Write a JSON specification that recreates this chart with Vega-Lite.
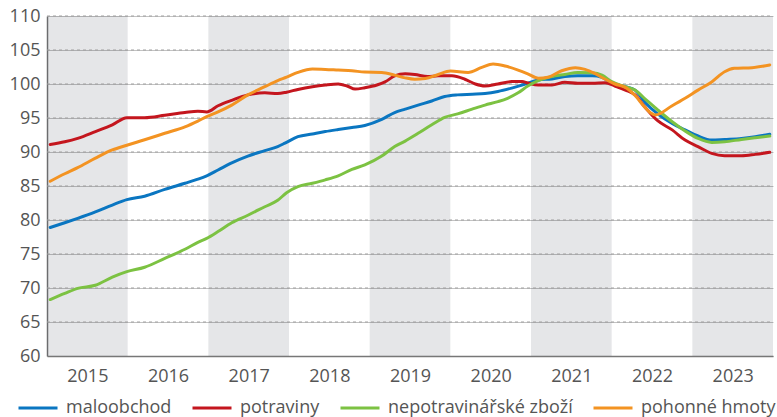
{
  "$schema": "https://vega.github.io/schema/vega-lite/v6.json",
  "width": 726,
  "height": 340,
  "autosize": {"type": "none"},
  "padding": {"left": 47, "top": 16, "right": 4, "bottom": 61},
  "background": "white",
  "config": {
    "view": {"stroke": null},
    "font": "Open Sans",
    "axis": {"labelFont": "Open Sans", "labelFontSize": 18, "labelColor": "#555555", "domainColor": "#777777", "domainWidth": 1.5, "ticks": false, "title": null, "labelOverlap": false},
    "axisX": {"grid": false},
    "axisY": {"grid": true, "gridColor": "#c2c2c2", "gridWidth": 1, "gridOpacity": 1},
    "legend": {"labelFont": "Open Sans", "labelFontSize": 18, "labelColor": "#555555", "labelLimit": 400}
  },
  "datasets": {
    "bands": [
      {"a": 2015, "b": 2016},
      {"a": 2017, "b": 2018},
      {"a": 2019, "b": 2020},
      {"a": 2021, "b": 2022},
      {"a": 2023, "b": 2024}
    ],
    "gridvals": [{"g": 65}, {"g": 70}, {"g": 75}, {"g": 80}, {"g": 85}, {"g": 90}, {"g": 95}, {"g": 100}, {"g": 105}, {"g": 110}],
    "lines": [
      {"s": "maloobchod", "t": 2015.04, "v": 78.9},
      {"s": "maloobchod", "t": 2015.22, "v": 79.6},
      {"s": "maloobchod", "t": 2015.38, "v": 80.25},
      {"s": "maloobchod", "t": 2015.60, "v": 81.2},
      {"s": "maloobchod", "t": 2015.81, "v": 82.2},
      {"s": "maloobchod", "t": 2015.99, "v": 83.0},
      {"s": "maloobchod", "t": 2016.21, "v": 83.5},
      {"s": "maloobchod", "t": 2016.46, "v": 84.5},
      {"s": "maloobchod", "t": 2016.71, "v": 85.4},
      {"s": "maloobchod", "t": 2016.87, "v": 86.0},
      {"s": "maloobchod", "t": 2016.98, "v": 86.5},
      {"s": "maloobchod", "t": 2017.12, "v": 87.35},
      {"s": "maloobchod", "t": 2017.29, "v": 88.4},
      {"s": "maloobchod", "t": 2017.49, "v": 89.4},
      {"s": "maloobchod", "t": 2017.70, "v": 90.2},
      {"s": "maloobchod", "t": 2017.86, "v": 90.8},
      {"s": "maloobchod", "t": 2017.95, "v": 91.3},
      {"s": "maloobchod", "t": 2018.11, "v": 92.25},
      {"s": "maloobchod", "t": 2018.29, "v": 92.65},
      {"s": "maloobchod", "t": 2018.45, "v": 93.0},
      {"s": "maloobchod", "t": 2018.61, "v": 93.3},
      {"s": "maloobchod", "t": 2018.78, "v": 93.6},
      {"s": "maloobchod", "t": 2018.94, "v": 93.9},
      {"s": "maloobchod", "t": 2019.15, "v": 94.8},
      {"s": "maloobchod", "t": 2019.31, "v": 95.8},
      {"s": "maloobchod", "t": 2019.44, "v": 96.3},
      {"s": "maloobchod", "t": 2019.60, "v": 96.9},
      {"s": "maloobchod", "t": 2019.77, "v": 97.5},
      {"s": "maloobchod", "t": 2019.93, "v": 98.15},
      {"s": "maloobchod", "t": 2020.09, "v": 98.4},
      {"s": "maloobchod", "t": 2020.27, "v": 98.5},
      {"s": "maloobchod", "t": 2020.43, "v": 98.6},
      {"s": "maloobchod", "t": 2020.59, "v": 98.9},
      {"s": "maloobchod", "t": 2020.76, "v": 99.4},
      {"s": "maloobchod", "t": 2020.89, "v": 99.85},
      {"s": "maloobchod", "t": 2020.96, "v": 100.1},
      {"s": "maloobchod", "t": 2021.09, "v": 100.6},
      {"s": "maloobchod", "t": 2021.26, "v": 100.75},
      {"s": "maloobchod", "t": 2021.42, "v": 101.1},
      {"s": "maloobchod", "t": 2021.58, "v": 101.2},
      {"s": "maloobchod", "t": 2021.76, "v": 101.2},
      {"s": "maloobchod", "t": 2021.88, "v": 101.0},
      {"s": "maloobchod", "t": 2022.00, "v": 100.1},
      {"s": "maloobchod", "t": 2022.17, "v": 99.6},
      {"s": "maloobchod", "t": 2022.29, "v": 99.1},
      {"s": "maloobchod", "t": 2022.42, "v": 97.2},
      {"s": "maloobchod", "t": 2022.57, "v": 95.6},
      {"s": "maloobchod", "t": 2022.75, "v": 94.2},
      {"s": "maloobchod", "t": 2022.91, "v": 93.25},
      {"s": "maloobchod", "t": 2023.07, "v": 92.35},
      {"s": "maloobchod", "t": 2023.24, "v": 91.75},
      {"s": "maloobchod", "t": 2023.40, "v": 91.85},
      {"s": "maloobchod", "t": 2023.61, "v": 92.0},
      {"s": "maloobchod", "t": 2023.78, "v": 92.25},
      {"s": "maloobchod", "t": 2023.96, "v": 92.6},

      {"s": "potraviny", "t": 2015.04, "v": 91.1},
      {"s": "potraviny", "t": 2015.22, "v": 91.5},
      {"s": "potraviny", "t": 2015.38, "v": 92.0},
      {"s": "potraviny", "t": 2015.60, "v": 93.0},
      {"s": "potraviny", "t": 2015.81, "v": 94.0},
      {"s": "potraviny", "t": 2015.99, "v": 95.05},
      {"s": "potraviny", "t": 2016.21, "v": 95.05},
      {"s": "potraviny", "t": 2016.46, "v": 95.4},
      {"s": "potraviny", "t": 2016.71, "v": 95.8},
      {"s": "potraviny", "t": 2016.87, "v": 96.0},
      {"s": "potraviny", "t": 2016.98, "v": 95.9},
      {"s": "potraviny", "t": 2017.12, "v": 96.8},
      {"s": "potraviny", "t": 2017.29, "v": 97.6},
      {"s": "potraviny", "t": 2017.49, "v": 98.4},
      {"s": "potraviny", "t": 2017.70, "v": 98.7},
      {"s": "potraviny", "t": 2017.86, "v": 98.6},
      {"s": "potraviny", "t": 2017.97, "v": 98.8},
      {"s": "potraviny", "t": 2018.11, "v": 99.2},
      {"s": "potraviny", "t": 2018.29, "v": 99.6},
      {"s": "potraviny", "t": 2018.45, "v": 99.85},
      {"s": "potraviny", "t": 2018.61, "v": 100.0},
      {"s": "potraviny", "t": 2018.72, "v": 99.7},
      {"s": "potraviny", "t": 2018.82, "v": 99.25},
      {"s": "potraviny", "t": 2018.94, "v": 99.45},
      {"s": "potraviny", "t": 2019.09, "v": 99.85},
      {"s": "potraviny", "t": 2019.19, "v": 100.3},
      {"s": "potraviny", "t": 2019.31, "v": 101.2},
      {"s": "potraviny", "t": 2019.44, "v": 101.5},
      {"s": "potraviny", "t": 2019.56, "v": 101.4},
      {"s": "potraviny", "t": 2019.72, "v": 101.1},
      {"s": "potraviny", "t": 2019.85, "v": 101.2},
      {"s": "potraviny", "t": 2020.02, "v": 101.2},
      {"s": "potraviny", "t": 2020.18, "v": 100.7},
      {"s": "potraviny", "t": 2020.31, "v": 100.0},
      {"s": "potraviny", "t": 2020.43, "v": 99.7},
      {"s": "potraviny", "t": 2020.59, "v": 100.0},
      {"s": "potraviny", "t": 2020.76, "v": 100.35},
      {"s": "potraviny", "t": 2020.89, "v": 100.35},
      {"s": "potraviny", "t": 2020.96, "v": 100.15},
      {"s": "potraviny", "t": 2021.09, "v": 99.85},
      {"s": "potraviny", "t": 2021.26, "v": 99.85},
      {"s": "potraviny", "t": 2021.42, "v": 100.25},
      {"s": "potraviny", "t": 2021.58, "v": 100.1},
      {"s": "potraviny", "t": 2021.76, "v": 100.1},
      {"s": "potraviny", "t": 2021.92, "v": 100.2},
      {"s": "potraviny", "t": 2022.04, "v": 99.7},
      {"s": "potraviny", "t": 2022.17, "v": 99.1},
      {"s": "potraviny", "t": 2022.29, "v": 98.4},
      {"s": "potraviny", "t": 2022.42, "v": 96.5},
      {"s": "potraviny", "t": 2022.57, "v": 94.6},
      {"s": "potraviny", "t": 2022.75, "v": 93.25},
      {"s": "potraviny", "t": 2022.91, "v": 91.75},
      {"s": "potraviny", "t": 2023.07, "v": 90.8},
      {"s": "potraviny", "t": 2023.24, "v": 89.8},
      {"s": "potraviny", "t": 2023.40, "v": 89.45},
      {"s": "potraviny", "t": 2023.61, "v": 89.45},
      {"s": "potraviny", "t": 2023.78, "v": 89.65},
      {"s": "potraviny", "t": 2023.96, "v": 89.95},

      {"s": "nepotravinářské zboží", "t": 2015.04, "v": 68.3},
      {"s": "nepotravinářské zboží", "t": 2015.22, "v": 69.2},
      {"s": "nepotravinářské zboží", "t": 2015.38, "v": 69.95},
      {"s": "nepotravinářské zboží", "t": 2015.60, "v": 70.4},
      {"s": "nepotravinářské zboží", "t": 2015.81, "v": 71.6},
      {"s": "nepotravinářské zboží", "t": 2015.99, "v": 72.4},
      {"s": "nepotravinářské zboží", "t": 2016.21, "v": 73.05},
      {"s": "nepotravinářské zboží", "t": 2016.46, "v": 74.35},
      {"s": "nepotravinářské zboží", "t": 2016.71, "v": 75.7},
      {"s": "nepotravinářské zboží", "t": 2016.87, "v": 76.7},
      {"s": "nepotravinářské zboží", "t": 2016.98, "v": 77.3},
      {"s": "nepotravinářské zboží", "t": 2017.12, "v": 78.3},
      {"s": "nepotravinářské zboží", "t": 2017.29, "v": 79.6},
      {"s": "nepotravinářské zboží", "t": 2017.49, "v": 80.7},
      {"s": "nepotravinářské zboží", "t": 2017.70, "v": 81.95},
      {"s": "nepotravinářské zboží", "t": 2017.86, "v": 82.9},
      {"s": "nepotravinářské zboží", "t": 2017.97, "v": 84.0},
      {"s": "nepotravinářské zboží", "t": 2018.11, "v": 84.9},
      {"s": "nepotravinářské zboží", "t": 2018.29, "v": 85.4},
      {"s": "nepotravinářské zboží", "t": 2018.45, "v": 85.9},
      {"s": "nepotravinářské zboží", "t": 2018.61, "v": 86.5},
      {"s": "nepotravinářské zboží", "t": 2018.78, "v": 87.45},
      {"s": "nepotravinářské zboží", "t": 2018.94, "v": 88.1},
      {"s": "nepotravinářské zboží", "t": 2019.15, "v": 89.4},
      {"s": "nepotravinářské zboží", "t": 2019.31, "v": 90.8},
      {"s": "nepotravinářské zboží", "t": 2019.44, "v": 91.6},
      {"s": "nepotravinářské zboží", "t": 2019.60, "v": 92.75},
      {"s": "nepotravinářské zboží", "t": 2019.77, "v": 94.0},
      {"s": "nepotravinářské zboží", "t": 2019.93, "v": 95.1},
      {"s": "nepotravinářské zboží", "t": 2020.09, "v": 95.6},
      {"s": "nepotravinářské zboží", "t": 2020.27, "v": 96.3},
      {"s": "nepotravinářské zboží", "t": 2020.43, "v": 96.9},
      {"s": "nepotravinářské zboží", "t": 2020.59, "v": 97.4},
      {"s": "nepotravinářské zboží", "t": 2020.71, "v": 97.9},
      {"s": "nepotravinářské zboží", "t": 2020.84, "v": 98.7},
      {"s": "nepotravinářské zboží", "t": 2020.96, "v": 99.7},
      {"s": "nepotravinářské zboží", "t": 2021.09, "v": 100.5},
      {"s": "nepotravinářské zboží", "t": 2021.26, "v": 101.1},
      {"s": "nepotravinářské zboží", "t": 2021.42, "v": 101.4},
      {"s": "nepotravinářské zboží", "t": 2021.58, "v": 101.7},
      {"s": "nepotravinářské zboží", "t": 2021.76, "v": 101.65},
      {"s": "nepotravinářské zboží", "t": 2021.88, "v": 101.3},
      {"s": "nepotravinářské zboží", "t": 2022.00, "v": 100.35},
      {"s": "nepotravinářské zboží", "t": 2022.17, "v": 99.6},
      {"s": "nepotravinářské zboží", "t": 2022.29, "v": 99.1},
      {"s": "nepotravinářské zboží", "t": 2022.42, "v": 97.75},
      {"s": "nepotravinářské zboží", "t": 2022.57, "v": 96.2},
      {"s": "nepotravinářské zboží", "t": 2022.75, "v": 94.45},
      {"s": "nepotravinářské zboží", "t": 2022.91, "v": 93.1},
      {"s": "nepotravinářské zboží", "t": 2023.07, "v": 92.0},
      {"s": "nepotravinářské zboží", "t": 2023.24, "v": 91.4},
      {"s": "nepotravinářské zboží", "t": 2023.40, "v": 91.5},
      {"s": "nepotravinářské zboží", "t": 2023.61, "v": 91.85},
      {"s": "nepotravinářské zboží", "t": 2023.78, "v": 92.1},
      {"s": "nepotravinářské zboží", "t": 2023.96, "v": 92.35},

      {"s": "pohonné hmoty", "t": 2015.04, "v": 85.7},
      {"s": "pohonné hmoty", "t": 2015.22, "v": 86.8},
      {"s": "pohonné hmoty", "t": 2015.38, "v": 87.7},
      {"s": "pohonné hmoty", "t": 2015.60, "v": 89.1},
      {"s": "pohonné hmoty", "t": 2015.81, "v": 90.3},
      {"s": "pohonné hmoty", "t": 2015.99, "v": 91.0},
      {"s": "pohonné hmoty", "t": 2016.21, "v": 91.8},
      {"s": "pohonné hmoty", "t": 2016.46, "v": 92.75},
      {"s": "pohonné hmoty", "t": 2016.71, "v": 93.7},
      {"s": "pohonné hmoty", "t": 2016.87, "v": 94.55},
      {"s": "pohonné hmoty", "t": 2016.98, "v": 95.2},
      {"s": "pohonné hmoty", "t": 2017.12, "v": 95.9},
      {"s": "pohonné hmoty", "t": 2017.29, "v": 96.9},
      {"s": "pohonné hmoty", "t": 2017.49, "v": 98.4},
      {"s": "pohonné hmoty", "t": 2017.70, "v": 99.6},
      {"s": "pohonné hmoty", "t": 2017.86, "v": 100.5},
      {"s": "pohonné hmoty", "t": 2017.97, "v": 101.0},
      {"s": "pohonné hmoty", "t": 2018.11, "v": 101.7},
      {"s": "pohonné hmoty", "t": 2018.29, "v": 102.2},
      {"s": "pohonné hmoty", "t": 2018.45, "v": 102.15},
      {"s": "pohonné hmoty", "t": 2018.61, "v": 102.05},
      {"s": "pohonné hmoty", "t": 2018.78, "v": 101.95},
      {"s": "pohonné hmoty", "t": 2018.94, "v": 101.75},
      {"s": "pohonné hmoty", "t": 2019.15, "v": 101.7},
      {"s": "pohonné hmoty", "t": 2019.31, "v": 101.3},
      {"s": "pohonné hmoty", "t": 2019.44, "v": 100.9},
      {"s": "pohonné hmoty", "t": 2019.56, "v": 100.7},
      {"s": "pohonné hmoty", "t": 2019.69, "v": 100.8},
      {"s": "pohonné hmoty", "t": 2019.85, "v": 101.4},
      {"s": "pohonné hmoty", "t": 2020.00, "v": 101.9},
      {"s": "pohonné hmoty", "t": 2020.22, "v": 101.7},
      {"s": "pohonné hmoty", "t": 2020.39, "v": 102.45},
      {"s": "pohonné hmoty", "t": 2020.53, "v": 102.95},
      {"s": "pohonné hmoty", "t": 2020.68, "v": 102.65},
      {"s": "pohonné hmoty", "t": 2020.84, "v": 102.05},
      {"s": "pohonné hmoty", "t": 2020.96, "v": 101.5},
      {"s": "pohonné hmoty", "t": 2021.09, "v": 100.85},
      {"s": "pohonné hmoty", "t": 2021.21, "v": 101.0},
      {"s": "pohonné hmoty", "t": 2021.38, "v": 101.95},
      {"s": "pohonné hmoty", "t": 2021.55, "v": 102.4},
      {"s": "pohonné hmoty", "t": 2021.67, "v": 102.15},
      {"s": "pohonné hmoty", "t": 2021.79, "v": 101.55},
      {"s": "pohonné hmoty", "t": 2021.92, "v": 100.7},
      {"s": "pohonné hmoty", "t": 2022.04, "v": 100.0},
      {"s": "pohonné hmoty", "t": 2022.17, "v": 99.5},
      {"s": "pohonné hmoty", "t": 2022.29, "v": 98.3},
      {"s": "pohonné hmoty", "t": 2022.41, "v": 96.6},
      {"s": "pohonné hmoty", "t": 2022.49, "v": 95.7},
      {"s": "pohonné hmoty", "t": 2022.54, "v": 95.45},
      {"s": "pohonné hmoty", "t": 2022.75, "v": 96.8},
      {"s": "pohonné hmoty", "t": 2022.91, "v": 97.9},
      {"s": "pohonné hmoty", "t": 2023.07, "v": 99.1},
      {"s": "pohonné hmoty", "t": 2023.24, "v": 100.3},
      {"s": "pohonné hmoty", "t": 2023.40, "v": 101.8},
      {"s": "pohonné hmoty", "t": 2023.52, "v": 102.3},
      {"s": "pohonné hmoty", "t": 2023.74, "v": 102.4},
      {"s": "pohonné hmoty", "t": 2023.96, "v": 102.8}
    ]
  },
  "layer": [
    {
      "data": {"name": "bands"},
      "mark": {"type": "rect", "fill": "#131c2e", "fillOpacity": 0.11},
      "encoding": {
        "x": {"field": "a", "type": "quantitative"},
        "x2": {"field": "b"}
      }
    },
    {
      "data": {"name": "gridvals"},
      "mark": {"type": "rule", "stroke": "#a0a0a0", "strokeWidth": 1, "strokeDash": [3, 3]},
      "encoding": {
        "x": {"datum": 2015, "type": "quantitative"},
        "x2": {"datum": 2024},
        "y": {"field": "g", "type": "quantitative"}
      }
    },
    {
      "data": {"name": "lines"},
      "mark": {"type": "line", "strokeWidth": 3, "strokeJoin": "round", "strokeCap": "round", "interpolate": "monotone"},
      "encoding": {
        "x": {
          "field": "t", "type": "quantitative",
          "scale": {"domain": [2015, 2024], "nice": false, "zero": false},
          "axis": {"values": [2015.5, 2016.5, 2017.5, 2018.5, 2019.5, 2020.5, 2021.5, 2022.5, 2023.5], "labelExpr": "floor(datum.value)", "labelPadding": 11, "labelFlush": false, "labelOverlap": false}
        },
        "y": {
          "field": "v", "type": "quantitative",
          "scale": {"domain": [60, 110], "nice": false, "zero": false},
          "axis": {"values": [60, 65, 70, 75, 80, 85, 90, 95, 100, 105, 110], "tickCount": 11, "labelPadding": 7, "labelOverlap": false}
        },
        "color": {
          "field": "s", "type": "nominal",
          "scale": {"domain": ["maloobchod", "potraviny", "nepotravinářské zboží", "pohonné hmoty"], "range": ["#0a76c1", "#c4161e", "#7cc242", "#f39322"]},
          "legend": {"title": null, "orient": "none", "direction": "horizontal", "legendX": -30, "legendY": 371, "symbolType": "stroke", "symbolSize": 1521, "symbolStrokeWidth": 3, "labelOffset": 7, "columnPadding": 14, "padding": 0, "labelLimit": 400}
        },
        "order": {"field": "t", "type": "quantitative"}
      }
    }
  ]
}
